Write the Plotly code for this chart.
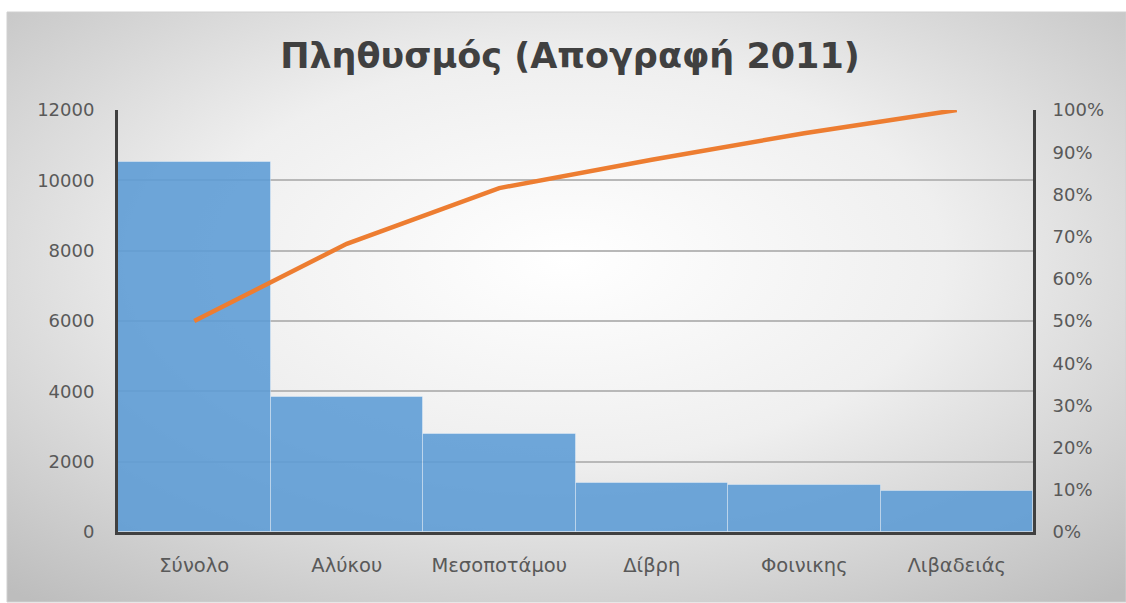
import base64
import plotly.graph_objects as go

categories = ["Σύνολο", "Αλύκου", "Μεσοποτάμου", "Δίβρη", "Φοινικης", "Λιβαδειάς"]
population = [10520, 3840, 2790, 1400, 1340, 1165]
cumulative_pct = [50.0, 68.3, 81.5, 88.2, 94.5, 100.0]

title_text = "Πληθυσμός (Απογραφή 2011)"
left_ticks = [0, 2000, 4000, 6000, 8000, 10000, 12000]
left_labels = ["0", "2000", "4000", "6000", "8000", "10000", "12000"]
right_ticks = [0, 10, 20, 30, 40, 50, 60, 70, 80, 90, 100]
right_labels = ["0%", "10%", "20%", "30%", "40%", "50%", "60%", "70%", "80%", "90%", "100%"]

W, H = 1126, 603
L, R, T, B = 118, 93, 110, 71
pw, ph = W - L - R, H - T - B

svg = (
    '<svg xmlns="http://www.w3.org/2000/svg" width="1119" height="590" viewBox="0 0 1119 590" preserveAspectRatio="none">'
    '<defs><radialGradient id="g" cx="50%" cy="42%" r="75%" gradientUnits="objectBoundingBox">'
    '<stop offset="0%" stop-color="#ffffff"/><stop offset="45%" stop-color="#efefef"/>'
    '<stop offset="100%" stop-color="#bdbdbd"/></radialGradient></defs>'
    '<rect x="0" y="0" width="1119" height="590" fill="url(#g)"/></svg>'
)
src = "data:image/svg+xml;base64," + base64.b64encode(svg.encode()).decode()

x0, x1 = 7, 1126
y0, y1 = 12, 602
px = lambda x: (x - L) / pw
py = lambda y: (H - B - y) / ph

fig = go.Figure()
fig.add_trace(go.Bar(
    x=categories, y=population,
    marker=dict(color="rgba(91,155,213,0.88)", line=dict(color="rgba(255,255,255,0.35)", width=1)),
    yaxis="y", showlegend=False,
))
fig.add_trace(go.Scatter(
    x=categories, y=cumulative_pct, mode="lines",
    line=dict(color="#ED7D31", width=4.5),
    yaxis="y2", showlegend=False,
))

font_family = "DejaVu Sans, sans-serif"
fig.update_layout(
    width=W, height=H,
    margin=dict(l=L, r=R, t=T, b=B),
    paper_bgcolor="white", plot_bgcolor="rgba(0,0,0,0)",
    bargap=0,
    font=dict(family=font_family, color="#595959", size=18),
    title=dict(text="<b>" + title_text + "</b>", x=570 / W, xref="container",
               xanchor="center", y=1 - 56 / H, yanchor="middle",
               font=dict(size=35, color="#404040", family=font_family)),
    xaxis=dict(showline=True, linecolor="#404040", linewidth=3, ticks="", showgrid=False,
               tickfont=dict(size=19.5, color="#595959"), ticklabelstandoff=14),
    yaxis=dict(range=[0, 12000], tickvals=left_ticks, ticktext=left_labels, showline=True,
               linecolor="#404040", linewidth=3,
               showgrid=True, gridcolor="#b8b8b8", gridwidth=1.5, zeroline=False, ticks="",
               tickfont=dict(size=18, color="#595959"), ticklabelstandoff=17),
    yaxis2=dict(range=[0, 100], tickvals=right_ticks, ticktext=right_labels, overlaying="y", side="right",
                showline=True, linecolor="#404040", linewidth=3, showgrid=False, zeroline=False, ticks="",
                tickfont=dict(size=18, color="#595959"), ticklabelstandoff=13),
    images=[dict(source=src, xref="paper", yref="paper", x=px(x0), y=py(y0),
                 sizex=px(x1) - px(x0), sizey=py(y0) - py(y1), xanchor="left", yanchor="top",
                 sizing="stretch", layer="below")],
    shapes=[dict(type="rect", xref="paper", yref="paper", x0=px(x0), x1=px(x1), y0=py(y1), y1=py(y0),
                 line=dict(color="#d0d0d0", width=1), layer="below")],
)

fig.write_html("out.html", config={"displayModeBar": False},
               post_script="document.body.style.margin='0';document.body.style.overflow='hidden';")
